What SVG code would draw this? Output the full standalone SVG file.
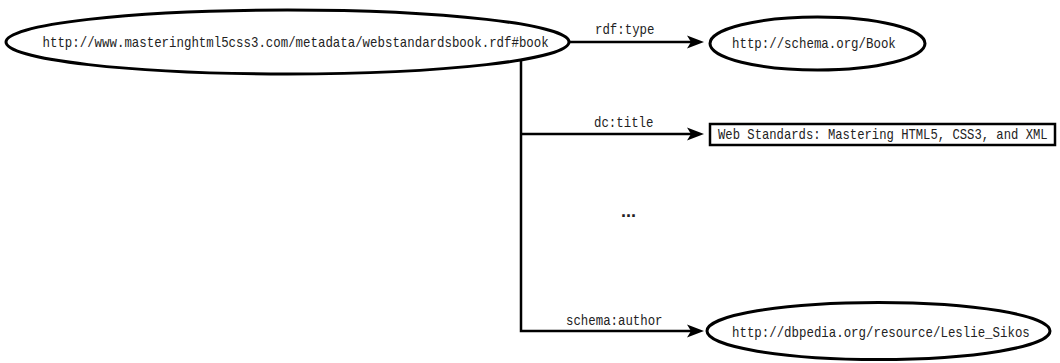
<svg xmlns="http://www.w3.org/2000/svg" width="1060" height="363" viewBox="0 0 1060 363">
<style>
.n{fill:#fff;stroke:#000;stroke-width:3}
.r{fill:#fff;stroke:#000;stroke-width:2.5}
.t{font-family:"Liberation Mono","DejaVu Sans Mono",monospace;font-size:14px;fill:#222}
.e{fill:none;stroke:#000;stroke-width:2.5}
</style>
<defs>
<marker id="ah" viewBox="0 -7 17 14" refX="4" refY="0" markerWidth="17" markerHeight="14" markerUnits="userSpaceOnUse" orient="auto">
<path d="M0,-6.5 L17,0 L0,6.5 L4,0 Z" fill="#000"/>
</marker>
</defs>
<g id="connectors">
<path class="e" d="M569,42 H691" marker-end="url(#ah)"/>
<path class="e" d="M521,60 V331 H691" marker-end="url(#ah)"/>
<path class="e" d="M521,134 H691" marker-end="url(#ah)"/>
<text class="t" transform="translate(595,34) scale(0.885,1)">rdf:type</text>
<text class="t" transform="translate(594,127) scale(0.885,1)">dc:title</text>
<text class="t" transform="translate(566,325) scale(0.885,1)">schema:author</text>
</g>
<g id="book">
<ellipse class="n" cx="287.5" cy="42" rx="281.5" ry="32"/>
<text class="t" transform="translate(42.5,46.5) scale(0.887,1)">http://www.masteringhtml5css3.com/metadata/webstandardsbook.rdf#book</text>
</g>
<g id="type">
<ellipse class="n" cx="817.5" cy="43.5" rx="107.5" ry="26.5"/>
<text class="t" transform="translate(732,48) scale(0.887,1)">http://schema.org/Book</text>
</g>
<g id="title">
<rect class="r" x="710" y="124" width="345" height="21"/>
<text class="t" transform="translate(718,139) scale(0.873,1)">Web Standards: Mastering HTML5, CSS3, and XML</text>
</g>
<g id="more">
<text x="628.5" y="217" text-anchor="middle" style="font-family:'Liberation Sans',Arial,sans-serif;font-size:18px;font-weight:bold;fill:#222">...</text>
</g>
<g id="author">
<ellipse class="n" cx="878.5" cy="331" rx="171.5" ry="28.5"/>
<text class="t" transform="translate(732,336.5) scale(0.887,1)">http://dbpedia.org/resource/Leslie_Sikos</text>
</g>
</svg>
